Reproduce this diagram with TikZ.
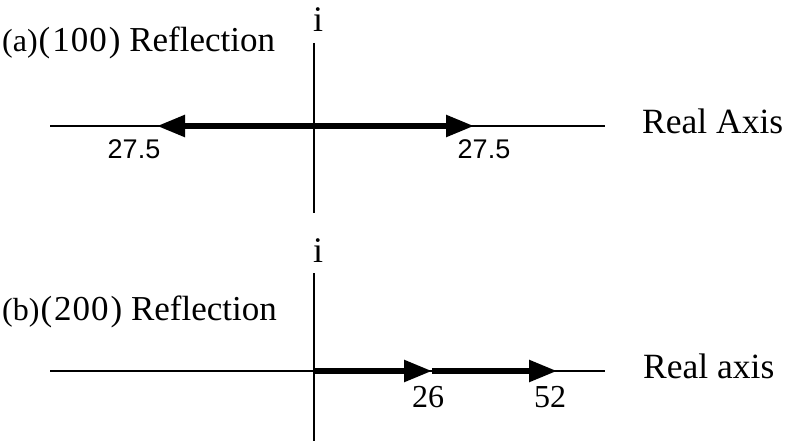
\documentclass[tikz,border=0pt]{standalone}
\usepackage{fontspec}
\setmainfont{Liberation Serif}
\newfontfamily\arialfont{Liberation Sans}
\usetikzlibrary{arrows.meta, positioning}
\newcommand{\reflabel}[2]{{\fontsize{32}{34}\selectfont(#1)}\kern1pt
  (\kern2pt#2\kern2pt)~Reflection}
\tikzset{
  axisline/.style={black, line width=1.8pt},
  vecarrow/.style={-{Triangle[length=28pt, width=21pt]}, black, line width=5.5pt},
  titletext/.style={font=\fontsize{35}{38}\selectfont, anchor=base west, inner sep=0},
  axislabel/.style={font=\fontsize{35.5}{38}\selectfont, anchor=base west, inner sep=0},
  ilabel/.style={font=\fontsize{36}{38}\selectfont, anchor=base, inner sep=0},
  valsans/.style={font=\fontsize{27}{30}\selectfont\arialfont, anchor=base, inner sep=0},
  valserif/.style={font=\fontsize{32}{34}\selectfont, anchor=base, inner sep=0},
}
\begin{document}
\begin{tikzpicture}[x=1pt, y=-1pt]
  \useasboundingbox (0,0) rectangle (792,441);

  %% (a) -- (100) reflection
  \coordinate (a-o) at (314,126);
  \coordinate (a-west) at (50,126);
  \coordinate (a-east) at (605,126);
  \coordinate (a-north) at (314,43);
  \coordinate (a-south) at (314,213);
  \coordinate (a-neg) at (157,126);
  \coordinate (a-pos) at (474,126);
  \draw[axisline] (a-west) -- (a-east);
  \draw[axisline] (a-north) -- (a-south);
  \draw[vecarrow] (a-o) -- (a-neg);
  \draw[vecarrow] (a-o) -- (a-pos);
  \node[titletext] (a-title) at (2,52) {\reflabel{a}{1\kern1pt0\kern1pt0}};
  \node[ilabel] (a-i) at (318,32) {i};
  \node[axislabel] (a-real) at (642,133) {Real Axis};
  \node[valsans] (a-negval) at (134,158) {27.5};
  \node[valsans] (a-posval) at (484,158) {27.5};

  %% (b) -- (200) reflection
  \coordinate (b-o) at (314,371);
  \coordinate (b-west) at (50,371);
  \coordinate (b-east) at (605,371);
  \coordinate (b-north) at (314,273);
  \coordinate (b-south) at (314,441);
  \coordinate (b-first) at (432,371);
  \coordinate (b-second) at (557,371);
  \draw[axisline] (b-west) -- (b-east);
  \draw[axisline] (b-north) -- (b-south);
  \draw[vecarrow] (b-o) -- (b-first);
  \draw[vecarrow] (b-first) -- (b-second);
  \node[titletext] (b-title) at (2,320) {\reflabel{b}{2\kern1pt0\kern1pt0}};
  \node[ilabel] (b-i) at (318,262) {i};
  \node[axislabel] (b-real) at (643,378) {Real axis};
  \node[valserif] (b-firstval) at (428,407) {26};
  \node[valserif] (b-secondval) at (550,407) {52};

\end{tikzpicture}
\end{document}
